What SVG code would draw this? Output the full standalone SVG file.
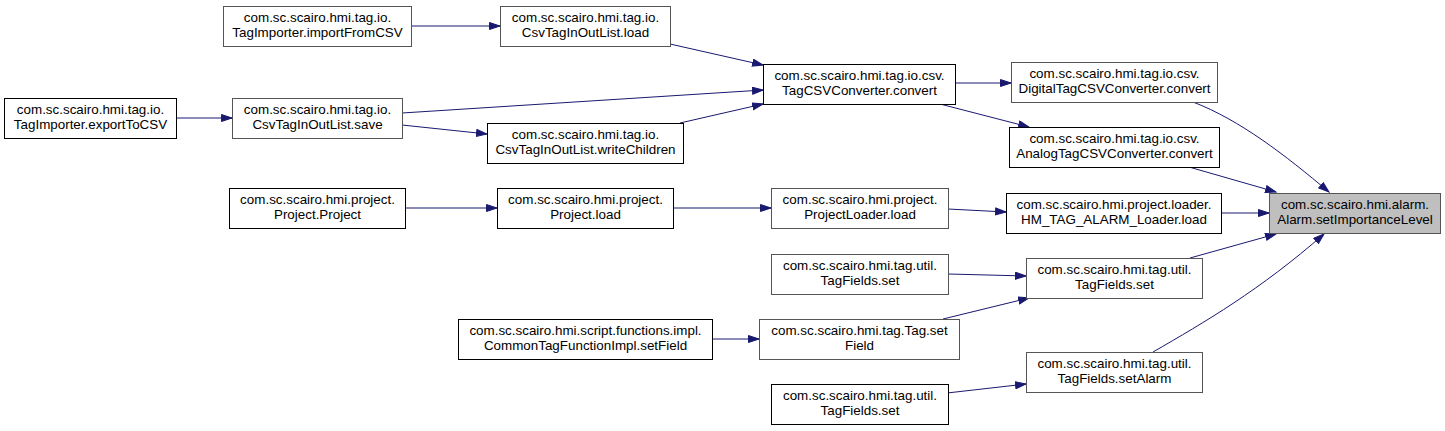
<svg xmlns="http://www.w3.org/2000/svg" width="1445" height="431" viewBox="0 0 1445 431">
<style>
.n rect{fill:#fff;stroke:#000;stroke-width:1}
.n.g rect{stroke:#555}
.n.hl rect{fill:#bfbfbf;stroke:#555}
.n text{font-family:"Liberation Sans",Arial,sans-serif;font-size:13.4px;fill:#000;text-anchor:middle}
.e path{fill:none;stroke:#191970;stroke-width:1}
</style>
<defs>
<marker id="a" markerUnits="userSpaceOnUse" markerWidth="12" markerHeight="9" refX="11" refY="4" orient="auto">
<path d="M0.5,0.5 L11,4 L0.5,7.5 z" fill="#191970" stroke="#191970"/>
</marker>
</defs>
<rect width="1445" height="431" fill="#fff"/>
<g id="edges" class="e">
<path marker-end="url(#a)" d="M411,26 L500,26"/>
<path marker-end="url(#a)" d="M670,44 L763,65"/>
<path marker-end="url(#a)" d="M176,118 L232,118"/>
<path marker-end="url(#a)" d="M402,113 L763,90"/>
<path marker-end="url(#a)" d="M402,125 L487,134"/>
<path marker-end="url(#a)" d="M680,123 L763,104"/>
<path marker-end="url(#a)" d="M955,83 L1011,83"/>
<path marker-end="url(#a)" d="M940,104 L1029,127"/>
<path marker-end="url(#a)" d="M1193,102 C1240,120 1285,155 1329,192"/>
<path marker-end="url(#a)" d="M1189,167 L1276,192"/>
<path marker-end="url(#a)" d="M405,208 L497,208"/>
<path marker-end="url(#a)" d="M673,208 L771,208"/>
<path marker-end="url(#a)" d="M948,209 L1006,212"/>
<path marker-end="url(#a)" d="M1221,213 L1269,213"/>
<path marker-end="url(#a)" d="M948,274 L1026,276"/>
<path marker-end="url(#a)" d="M712,339 L759,339"/>
<path marker-end="url(#a)" d="M943,319 L1029,298"/>
<path marker-end="url(#a)" d="M1190,258 L1276,234"/>
<path marker-end="url(#a)" d="M1153,352 C1205,322 1260,290 1324,234"/>
<path marker-end="url(#a)" d="M947,393 L1026,384"/>
</g>
<g id="importFromCSV" class="n g"><rect x="223.5" y="6.5" width="188" height="40"/><text x="317.5" y="22">com.sc.scairo.hmi.tag.io.</text><text x="317.5" y="37">TagImporter.importFromCSV</text></g>
<g id="exportToCSV" class="n"><rect x="4.5" y="98.5" width="172" height="40"/><text x="90.5" y="114">com.sc.scairo.hmi.tag.io.</text><text x="90.5" y="129">TagImporter.exportToCSV</text></g>
<g id="save" class="n g"><rect x="232.5" y="98.5" width="170" height="40"/><text x="317.5" y="114">com.sc.scairo.hmi.tag.io.</text><text x="317.5" y="129">CsvTagInOutList.save</text></g>
<g id="load" class="n g"><rect x="500.5" y="6.5" width="170" height="40"/><text x="585.5" y="22">com.sc.scairo.hmi.tag.io.</text><text x="585.5" y="37">CsvTagInOutList.load</text></g>
<g id="writeChildren" class="n"><rect x="487.5" y="123.5" width="196" height="40"/><text x="585.5" y="139">com.sc.scairo.hmi.tag.io.</text><text x="585.5" y="154">CsvTagInOutList.writeChildren</text></g>
<g id="convert" class="n"><rect x="763.5" y="64.5" width="192" height="40"/><text x="859.5" y="80">com.sc.scairo.hmi.tag.io.csv.</text><text x="859.5" y="95">TagCSVConverter.convert</text></g>
<g id="digital" class="n g"><rect x="1011.5" y="62.5" width="206" height="40"/><text x="1114.5" y="78">com.sc.scairo.hmi.tag.io.csv.</text><text x="1114.5" y="93">DigitalTagCSVConverter.convert</text></g>
<g id="analog" class="n"><rect x="1009.5" y="127.5" width="210" height="40"/><text x="1114.5" y="143">com.sc.scairo.hmi.tag.io.csv.</text><text x="1114.5" y="158">AnalogTagCSVConverter.convert</text></g>
<g id="projectProject" class="n"><rect x="229.5" y="188.5" width="176" height="40"/><text x="317.5" y="204">com.sc.scairo.hmi.project.</text><text x="317.5" y="219">Project.Project</text></g>
<g id="projectLoad" class="n"><rect x="497.5" y="188.5" width="176" height="40"/><text x="585.5" y="204">com.sc.scairo.hmi.project.</text><text x="585.5" y="219">Project.load</text></g>
<g id="projectLoaderLoad" class="n g"><rect x="771.5" y="188.5" width="177" height="40"/><text x="860" y="204">com.sc.scairo.hmi.project.</text><text x="860" y="219">ProjectLoader.load</text></g>
<g id="hmTagAlarmLoader" class="n"><rect x="1006.5" y="193.5" width="215" height="40"/><text x="1114" y="209">com.sc.scairo.hmi.project.loader.</text><text x="1114" y="224">HM_TAG_ALARM_Loader.load</text></g>
<g id="alarm" class="n hl"><rect x="1269.5" y="193.5" width="171" height="40"/><text x="1355" y="209">com.sc.scairo.hmi.alarm.</text><text x="1355" y="224">Alarm.setImportanceLevel</text></g>
<g id="tagFieldsSet1" class="n g"><rect x="771.5" y="254.5" width="177" height="40"/><text x="860" y="270">com.sc.scairo.hmi.tag.util.</text><text x="860" y="285">TagFields.set</text></g>
<g id="commonSetField" class="n"><rect x="458.5" y="319.5" width="254" height="40"/><text x="585.5" y="335">com.sc.scairo.hmi.script.functions.impl.</text><text x="585.5" y="350">CommonTagFunctionImpl.setField</text></g>
<g id="tagSetField" class="n g"><rect x="759.5" y="319.5" width="200" height="40"/><text x="859.5" y="335">com.sc.scairo.hmi.tag.Tag.set</text><text x="859.5" y="350">Field</text></g>
<g id="tagFieldsSet2" class="n"><rect x="771.5" y="384.5" width="177" height="40"/><text x="860" y="400">com.sc.scairo.hmi.tag.util.</text><text x="860" y="415">TagFields.set</text></g>
<g id="tagFieldsSetR" class="n g"><rect x="1026.5" y="258.5" width="176" height="40"/><text x="1114.5" y="274">com.sc.scairo.hmi.tag.util.</text><text x="1114.5" y="289">TagFields.set</text></g>
<g id="tagFieldsSetAlarm" class="n g"><rect x="1026.5" y="352.5" width="176" height="40"/><text x="1114.5" y="368">com.sc.scairo.hmi.tag.util.</text><text x="1114.5" y="383">TagFields.setAlarm</text></g>
</svg>
